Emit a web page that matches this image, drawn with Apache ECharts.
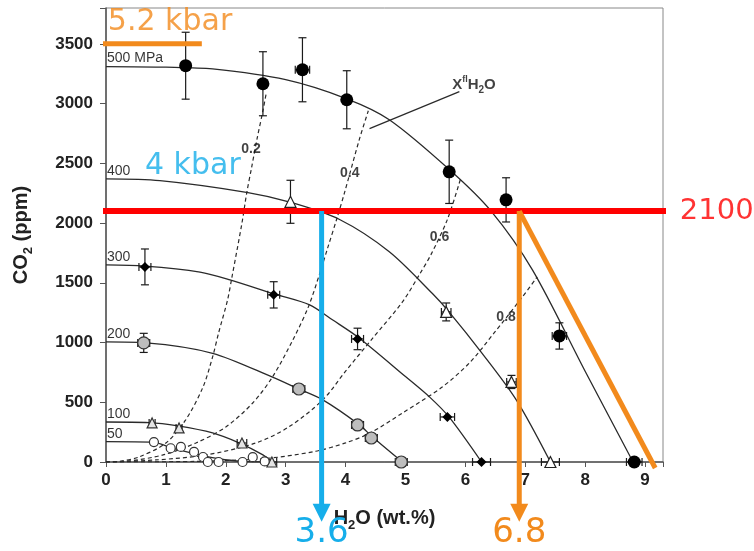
<!DOCTYPE html>
<html><head><meta charset="utf-8">
<script src="https://cdn.jsdelivr.net/npm/echarts@6/dist/echarts.min.js"></script>
<style>html,body{margin:0;padding:0;background:#fff}#c{width:754px;height:551px}</style>
</head><body><div id="c"></div>
<script>
// ---------- data ----------
const xTickLabels = ['0','1','2','3','4','5','6','7','8','9'];
const yTickLabels = ['0','500','1000','1500','2000','2500','3000','3500'];

const isobarNames = ['500 MPa','400','300','200','100','50'];
const isobar500 = [[0,3310],[1.0,3305],[1.78,3290],[3.0,3200],[4.02,3040],[4.73,2865],[5.75,2440],[6.43,2100],[7.12,1608],[8.0,760],[8.8,0]];
const isobar400 = [[0,2370],[0.9,2355],[2.37,2255],[3.07,2175],[3.9,2030],[4.73,1760],[5.45,1410],[5.73,1255],[6.28,910],[6.85,520],[7.42,0]];
const isobar300 = [[0,1650],[0.65,1640],[1.57,1590],[2.07,1525],[2.82,1405],[3.4,1315],[3.78,1190],[4.22,1040],[5.0,715],[5.4,545],[5.73,375],[6.27,0]];
const isobar200 = [[0,1005],[0.67,997],[1.78,910],[2.78,710],[3.2,615],[3.62,520],[4.22,315],[4.45,210],[4.95,0]];
const isobar100 = [[0,335],[0.72,330],[1.2,302],[1.78,243],[2.22,160],[2.62,60],[2.78,0]];
const isobar50  = [[0,170],[0.8,165],[1.08,120],[1.47,70],[1.9,25],[2.3,5],[2.7,0]];

const isoplethNames = ['0.2','0.4','0.6','0.8'];
const xfl02 = [[0,0],[0.22,5],[0.55,42],[1.0,159],[1.33,352],[1.62,628],[1.78,880],[1.88,1080],[2.03,1357],[2.1,1540],[2.27,2000],[2.35,2253],[2.43,2462],[2.52,2700],[2.62,2940],[2.68,3100]];
const xfl04 = [[0,0],[0.33,5],[0.95,59],[1.5,159],[2.0,293],[2.45,494],[2.78,712],[3.12,1022],[3.38,1300],[3.57,1580],[3.7,1790],[3.85,2030],[3.98,2250],[4.23,2700],[4.38,2940]];
const xfl06 = [[0,0],[0.83,17],[1.67,59],[2.5,159],[3.05,293],[3.62,520],[4.0,760],[4.45,1035],[4.95,1340],[5.23,1566],[5.43,1740],[5.7,2030],[5.92,2370]];
const xfl08 = [[0,0],[1.5,5],[2.68,30],[3.5,90],[4.0,160],[4.4,240],[4.95,410],[5.62,630],[6.07,830],[6.48,1080],[6.95,1380],[7.2,1550]];
const isoplethLabelAt = [[2.42,2621],[4.07,2420],[5.57,1880],[6.68,1214]];
const leaderLine = [[4.4,2790],[5.9,3100]];
const leaderLabelAt = [[5.78,3157]];

// measured points: [x, y, xErr, yErr]
const pts500 = [[1.33,3317,0,280],[2.62,3166,0,268],[3.28,3283,0.12,268],[4.02,3032,0,243],[5.73,2429,0,265],[6.68,2194,0,185],[7.57,1055,0.12,110],[8.82,0,0.13,0]];
const pts400 = [[3.08,2178,0,180],[5.68,1256,0.08,75],[6.77,670,0.08,55],[7.42,0,0.15,0]];
const pts300 = [[0.65,1633,0.1,150],[2.8,1399,0.1,110],[4.2,1030,0.1,90],[5.7,377,0.12,0],[6.27,0,0.15,0]];
const pts200 = [[0.63,997,0.1,80],[3.22,611,0.1,0],[4.2,310,0.1,0],[4.43,201,0.1,0],[4.93,0,0.1,0]];
const pts100 = [[0.77,327,0.05,0],[1.22,285,0.05,0],[2.27,159,0.08,0],[2.77,0,0.08,0]];
const pts50  = [[0.8,167,0,0],[1.08,115,0,0],[1.25,126,0,0],[1.47,84,0,0],[1.62,42,0,0],[1.7,0,0,0],[1.88,0,0,0],[2.28,0,0,0],[2.45,40,0,0],[2.65,5,0,0]];

// annotations
const line2100 = [[-0.17,2100],[9.43,2100]];
const label2100 = '2100';
const line52kbar = [[-0.1,3500],[1.6,3500]];
const text52kbar = {text:'5.2 kbar', at:[0.03,3685]};
const text4kbar = {text:'4 kbar', at:[0.65,2479]};
const orangeDiagonal = [[6.9,2100],[9.17,-50]];
const blueArrow = [3.6, 2100, -500];   // x, from y, to y
const orangeArrow = [6.9, 2100, -500];
const blueArrowText = '3.6';
const orangeArrowText = '6.8';

// ---------- chart ----------
const BLUE = '#16aeea', ORANGE = '#f28a1c', RED = '#ff0000', INK = '#1a1a1a';
const chart = echarts.init(document.getElementById('c'), null, {renderer:'canvas'});

const isobars = [isobar500, isobar400, isobar300, isobar200, isobar100, isobar50];
const isopleths = [xfl02, xfl04, xfl06, xfl08];
const ptGroups = [pts500, pts400, pts300, pts200, pts100, pts50];
const markerStyles = [
  {symbol:'circle', size:13, itemStyle:{color:'#000', opacity:1}},
  {symbol:'triangle', size:11, itemStyle:{color:'#fff', borderColor:'#222', borderWidth:1.2, opacity:1}},
  {symbol:'diamond', size:10, itemStyle:{color:'#000', opacity:1}},
  {symbol:'circle', size:12, itemStyle:{color:'#bdbdbd', borderColor:'#333', borderWidth:1.2, opacity:1}},
  {symbol:'triangle', size:10, itemStyle:{color:'#e4e4e4', borderColor:'#333', borderWidth:1.2, opacity:1}},
  {symbol:'circle', size:9, itemStyle:{color:'#fff', borderColor:'#333', borderWidth:1.2, opacity:1}}
];

function errRender(params, api){
  const x = api.value(0), y = api.value(1), xe = api.value(2), ye = api.value(3);
  const st = {stroke:INK, lineWidth:1.2};
  const ch = [];
  const cap = 4;
  if (ye > 0){
    const a = api.coord([x, y+ye]), b = api.coord([x, y-ye]);
    ch.push({type:'line', shape:{x1:a[0],y1:a[1],x2:b[0],y2:b[1]}, style:st});
    ch.push({type:'line', shape:{x1:a[0]-cap,y1:a[1],x2:a[0]+cap,y2:a[1]}, style:st});
    ch.push({type:'line', shape:{x1:b[0]-cap,y1:b[1],x2:b[0]+cap,y2:b[1]}, style:st});
  }
  if (xe > 0){
    const a = api.coord([x-xe, y]), b = api.coord([x+xe, y]);
    ch.push({type:'line', shape:{x1:a[0],y1:a[1],x2:b[0],y2:b[1]}, style:st});
    ch.push({type:'line', shape:{x1:a[0],y1:a[1]-cap,x2:a[0],y2:a[1]+cap}, style:st});
    ch.push({type:'line', shape:{x1:b[0],y1:b[1]-cap,x2:b[0],y2:b[1]+cap}, style:st});
  }
  return {type:'group', children:ch};
}

function arrowSeries(arr, color, text){
  return {
    type:'custom', clip:false, z:12, silent:true,
    data:[arr],
    renderItem(params, api){
      const x = api.value(0), y0 = api.value(1), y1 = api.value(2);
      const p0 = api.coord([x, y0]), p1 = api.coord([x, y1]);
      const hl = 18, hw = 9;
      return {type:'group', children:[
        {type:'line', shape:{x1:p0[0],y1:p0[1],x2:p1[0],y2:p1[1]-hl+2}, style:{stroke:color, lineWidth:5}},
        {type:'polygon', shape:{points:[[p1[0]-hw,p1[1]-hl],[p1[0]+hw,p1[1]-hl],[p1[0],p1[1]]]}, style:{fill:color}},
        {type:'text', x:p1[0], y:p1[1]+11, style:{text:text, fill:color, font:'34px "DejaVu Sans"', align:'center', verticalAlign:'middle'}}
      ]};
    }
  };
}

function textSeries(items, labelOpt){
  return {
    type:'scatter', clip:false, z:11, silent:true, symbolSize:0.1,
    itemStyle:{color:'transparent'},
    data: items.map(it => ({name:it.text, value:it.at})),
    label: Object.assign({show:true, formatter:'{b}'}, labelOpt)
  };
}

const series = [];
// isobars
isobars.forEach((d, i) => series.push({
  type:'line', data:d, showSymbol:false, smooth:0.3, z:3, silent:true,
  lineStyle:{color:'#2a2a2a', width:1.3}
}));
// isopleths
isopleths.forEach(d => series.push({
  type:'line', data:d, showSymbol:false, smooth:0.3, z:3, silent:true,
  lineStyle:{color:'#2a2a2a', width:1.2, type:[4,3]}
}));
series.push({type:'line', data:leaderLine, showSymbol:false, z:3, lineStyle:{color:'#2a2a2a', width:1.2}});
// error bars + markers
ptGroups.forEach((d, i) => {
  series.push({type:'custom', data:d, renderItem:errRender, z:4, silent:true});
  series.push({type:'scatter', data:d.map(p => [p[0], p[1]]), symbol:markerStyles[i].symbol,
    symbolSize:markerStyles[i].size, itemStyle:markerStyles[i].itemStyle, z:5, clip:false});
});
// isobar labels anchored to curve start
series.push(textSeries(isobars.map((d,i)=>({text:isobarNames[i], at:d[0]})),
  {position:'right', distance:1, offset:[0,-8], color:'#000', fontSize:14, fontFamily:'Liberation Sans'}));
// isopleth labels
series.push(textSeries(isoplethLabelAt.map((p,i)=>({text:isoplethNames[i], at:p})),
  {position:'inside', color:'#111', fontSize:14, fontWeight:'bold', fontFamily:'Liberation Sans'}));
// X^fl H2O label
series.push({
  type:'scatter', clip:false, z:11, symbolSize:0.1, itemStyle:{color:'transparent'},
  data:[{name:'x', value:leaderLabelAt[0]}],
  label:{show:true, position:'right', distance:0,
    formatter:'{m|X}{sup|fl}{m|H}{sub|2}{m|O}',
    rich:{
      m:{fontSize:15, fontWeight:'bold', fontFamily:'Liberation Sans', color:'#111', lineHeight:20},
      sup:{fontSize:9, fontWeight:'bold', fontFamily:'Liberation Sans', color:'#111', verticalAlign:'top', lineHeight:11},
      sub:{fontSize:10, fontWeight:'bold', fontFamily:'Liberation Sans', color:'#111', verticalAlign:'bottom', lineHeight:11}
    }}
});
// annotation lines
series.push({type:'line', data:line2100, showSymbol:false, clip:false, z:10, lineStyle:{color:RED, width:6}});
series.push({type:'line', data:line52kbar, showSymbol:false, clip:false, z:10, lineStyle:{color:ORANGE, width:5}});
series.push({type:'line', data:orangeDiagonal, showSymbol:false, clip:false, z:12, lineStyle:{color:ORANGE, width:5}});
series.push(arrowSeries(blueArrow, BLUE, blueArrowText));
series.push(arrowSeries(orangeArrow, ORANGE, orangeArrowText));
// annotation texts
series.push(textSeries([text52kbar], {position:'right', distance:0, color:ORANGE, fontSize:30, fontFamily:'DejaVu Sans'}));
series.push(textSeries([text4kbar], {position:'right', distance:0, color:BLUE, fontSize:30, fontFamily:'DejaVu Sans'}));
series.push(textSeries([{text:label2100, at:line2100[1]}], {position:'right', distance:9, color:RED, fontSize:29, fontFamily:'DejaVu Sans'}));

const axisLabelStyle = {fontSize:17, fontWeight:'bold', fontFamily:'Liberation Sans', color:'#222'};
const nameRich = {
  b:{fontSize:20, fontWeight:'bold', fontFamily:'Liberation Sans', color:'#222', lineHeight:28},
  s:{fontSize:13, fontWeight:'bold', fontFamily:'Liberation Sans', color:'#222', verticalAlign:'bottom', lineHeight:16}
};
function tickText(labels, step){
  return v => {
    const k = v / step;
    if (Math.abs(k - Math.round(k)) > 1e-6) return '';
    return labels[Math.round(k)] ?? '';
  };
}

chart.setOption({
  animation:false,
  backgroundColor:'#fff',
  grid:{left:106, right:91, top:8, bottom:89, show:true, borderColor:'#888', borderWidth:1, containLabel:false, outerBoundsMode:'none'},
  xAxis:{
    type:'value', min:0, max:9.3, interval:1,
    splitLine:{show:false},
    axisLine:{show:true, lineStyle:{color:'#555', width:1.5}},
    axisTick:{show:true, inside:false, length:5, lineStyle:{color:'#555'}},
    axisLabel:Object.assign({margin:10, formatter:tickText(xTickLabels, 1)}, axisLabelStyle),
    name:'{b|H}{s|2}{b|O (wt.%)}', nameLocation:'middle', nameGap:42,
    nameTextStyle:{rich:nameRich}
  },
  yAxis:{
    type:'value', min:0, max:3800, interval:500,
    splitLine:{show:false},
    axisLine:{show:true, lineStyle:{color:'#555', width:1.5}},
    axisTick:{show:true, inside:false, length:6, lineStyle:{color:'#555'}},
    axisLabel:Object.assign({margin:13, formatter:tickText(yTickLabels, 500)}, axisLabelStyle),
    name:'{b|CO}{s|2}{b| (ppm)}', nameLocation:'middle', nameGap:71, nameRotate:90,
    nameTextStyle:{rich:nameRich}
  },
  series:series
});
</script></body></html>
